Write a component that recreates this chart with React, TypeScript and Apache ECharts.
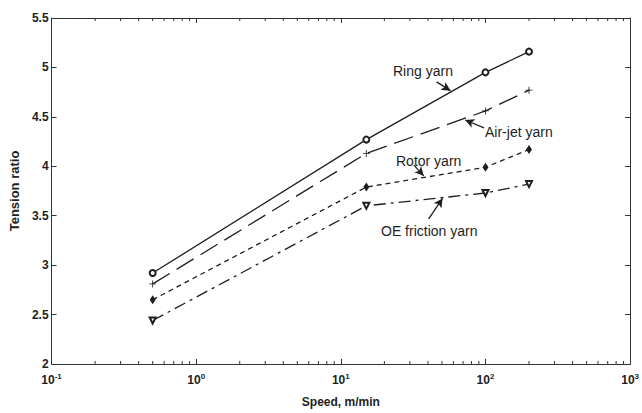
import React, { useEffect, useRef } from "react";
import * as echarts from "echarts";

const speeds = [0.5, 15, 100, 200];
const ringYarn = [2.92, 4.27, 4.95, 5.16];
const airJetYarn = [2.81, 4.13, 4.56, 4.77];
const rotorYarn = [2.65, 3.79, 3.99, 4.17];
const oeFrictionYarn = [2.44, 3.6, 3.73, 3.82];
const yTicks = { min: 2, max: 5.5, interval: 0.5 };
const xRange = { min: 0.1, max: 1000 };
const minorTickValues = [
  0.2, 0.3, 0.4, 0.5, 0.6, 0.7, 0.8, 0.9,
  2, 3, 4, 5, 6, 7, 8, 9,
  20, 30, 40, 50, 60, 70, 80, 90,
  200, 300, 400, 500, 600, 700, 800, 900,
];
// annotation arrows: [from, to] in data coordinates
const arrowRing = [[45.9, 4.854], [57.3, 4.765]];
const arrowAirJet = [[97.7, 4.388], [72.4, 4.468]];
const arrowRotor = [[32.0, 4.012], [37.4, 3.903]];
const arrowOE = [[40.5, 3.467], [50.5, 3.675]];
const labels = ["Ring yarn", "Air-jet yarn", "Rotor yarn", "OE friction yarn"];

const INK = "#1e1e1e";
const FONT = "Liberation Sans, Arial, sans-serif";

export default function App() {
  const ref = useRef<HTMLDivElement>(null);
  useEffect(() => {
    if (!ref.current) return;
    const chart = echarts.init(ref.current, undefined, { renderer: "svg" });
    const mk = (d: number[]) => speeds.map((s, i) => [s, d[i]]);
    const arrowLine = (a: number[][]) => ({
      silent: true,
      symbol: ["none", "arrow"],
      symbolSize: [7, 9],
      lineStyle: { type: "solid", color: INK, width: 1.3 },
      label: { show: false },
      data: [[{ coord: a[0] }, { coord: a[1] }]],
    });
    const textEl = (t: string, x: number, y: number) => ({
      type: "text",
      left: x,
      top: y - 8,
      style: { text: t, fill: INK, font: `14px ${FONT}` },
    });
    chart.setOption({
      animation: false,
      backgroundColor: "#fff",
      grid: { left: 46, right: 10, top: 18, bottom: 42 },
      xAxis: [
        {
          type: "log",
          logBase: 10,
          min: xRange.min,
          max: xRange.max,
          name: "Speed, m/min",
          nameLocation: "middle",
          nameGap: 32,
          nameTextStyle: { fontFamily: FONT, fontWeight: "bold", fontSize: 12, color: INK },
          axisLine: { lineStyle: { color: "#333", width: 1 } },
          axisTick: { inside: true, length: 5, lineStyle: { color: "#333" } },
          splitLine: { show: false },
          minorTick: { show: false },
          axisLabel: {
            margin: 8,
            formatter: (v: number) => `{b|10}{s|${Math.round(Math.log10(v))}}`,
            rich: {
              b: { fontFamily: FONT, fontWeight: "bold", fontSize: 12, color: INK },
              s: { fontFamily: FONT, fontWeight: "bold", fontSize: 8, color: INK, padding: [0, 0, 8, 0] },
            },
          },
        },
        {
          type: "log",
          logBase: 10,
          min: xRange.min,
          max: xRange.max,
          position: "top",
          axisLine: { lineStyle: { color: "#333", width: 1 } },
          axisTick: { inside: true, length: 5, lineStyle: { color: "#333" } },
          axisLabel: { show: false },
          splitLine: { show: false },
        },
      ],
      yAxis: [
        {
          type: "value",
          min: yTicks.min,
          max: yTicks.max,
          interval: yTicks.interval,
          name: "Tension ratio",
          nameLocation: "middle",
          nameGap: 30,
          nameTextStyle: { fontFamily: FONT, fontWeight: "bold", fontSize: 13, color: INK },
          axisLine: { show: true, lineStyle: { color: "#333", width: 1 } },
          axisTick: { show: true, inside: true, length: 5, lineStyle: { color: "#333" } },
          splitLine: { show: false },
          axisLabel: {
            margin: 3,
            fontFamily: FONT,
            fontWeight: "bold",
            fontSize: 12,
            color: INK,
            formatter: (v: number) => String(v),
          },
        },
        {
          type: "value",
          min: yTicks.min,
          max: yTicks.max,
          interval: yTicks.interval,
          position: "right",
          axisLine: { show: true, lineStyle: { color: "#333", width: 1 } },
          axisTick: { show: true, inside: true, length: 5, lineStyle: { color: "#333" } },
          axisLabel: { show: false },
          splitLine: { show: false },
        },
      ],
      series: [
        {
          name: labels[0],
          type: "line",
          data: mk(ringYarn),
          symbol: "emptyCircle",
          symbolSize: 6,
          itemStyle: { color: INK, borderColor: INK, borderWidth: 1 },
          lineStyle: { color: INK, width: 1.3, type: "solid" },
          markLine: arrowLine(arrowRing),
        },
        {
          name: labels[1],
          type: "line",
          data: mk(airJetYarn),
          symbol: "path://M-0.6,-5H0.6V-0.6H5V0.6H0.6V5H-0.6V0.6H-5V-0.6H-0.6Z",
          symbolSize: 7,
          itemStyle: { color: INK },
          lineStyle: { color: INK, width: 1.3, type: [20, 8] },
          markLine: arrowLine(arrowAirJet),
        },
        {
          name: labels[2],
          type: "line",
          data: mk(rotorYarn),
          symbol: "diamond",
          symbolSize: [6, 9],
          itemStyle: { color: INK },
          lineStyle: { color: INK, width: 1.3, type: [5, 4] },
          markLine: arrowLine(arrowRotor),
        },
        {
          name: labels[3],
          type: "line",
          data: mk(oeFrictionYarn),
          symbol: "emptyTriangle",
          symbolRotate: 180,
          symbolSize: 6,
          itemStyle: { color: INK, borderColor: INK, borderWidth: 1 },
          lineStyle: { color: INK, width: 1.3, type: [12, 5, 3, 5] },
          markLine: arrowLine(arrowOE),
        },
        {
          type: "custom",
          silent: true,
          data: minorTickValues.map((v) => [v, yTicks.min]),
          encode: { x: 0, y: 1 },
          renderItem: (params: any, api: any) => {
            const p = api.coord([api.value(0), api.value(1)]);
            const cs = params.coordSys;
            const bottom = cs.y + cs.height;
            const st = { stroke: "#333", lineWidth: 1 };
            return {
              type: "group",
              children: [
                { type: "line", shape: { x1: p[0], y1: bottom, x2: p[0], y2: bottom - 3 }, style: st },
                { type: "line", shape: { x1: p[0], y1: cs.y, x2: p[0], y2: cs.y + 3 }, style: st },
              ],
            };
          },
          z: 1,
        },
      ],
      graphic: [
        textEl(labels[0], 393, 72),
        textEl(labels[1], 485, 133),
        textEl(labels[2], 396, 162),
        textEl(labels[3], 381, 232),
      ],
    });
    return () => chart.dispose();
  }, []);
  return <div ref={ref} style={{ width: 642, height: 413, position: "fixed", left: 0, top: 0 }} />;
}
